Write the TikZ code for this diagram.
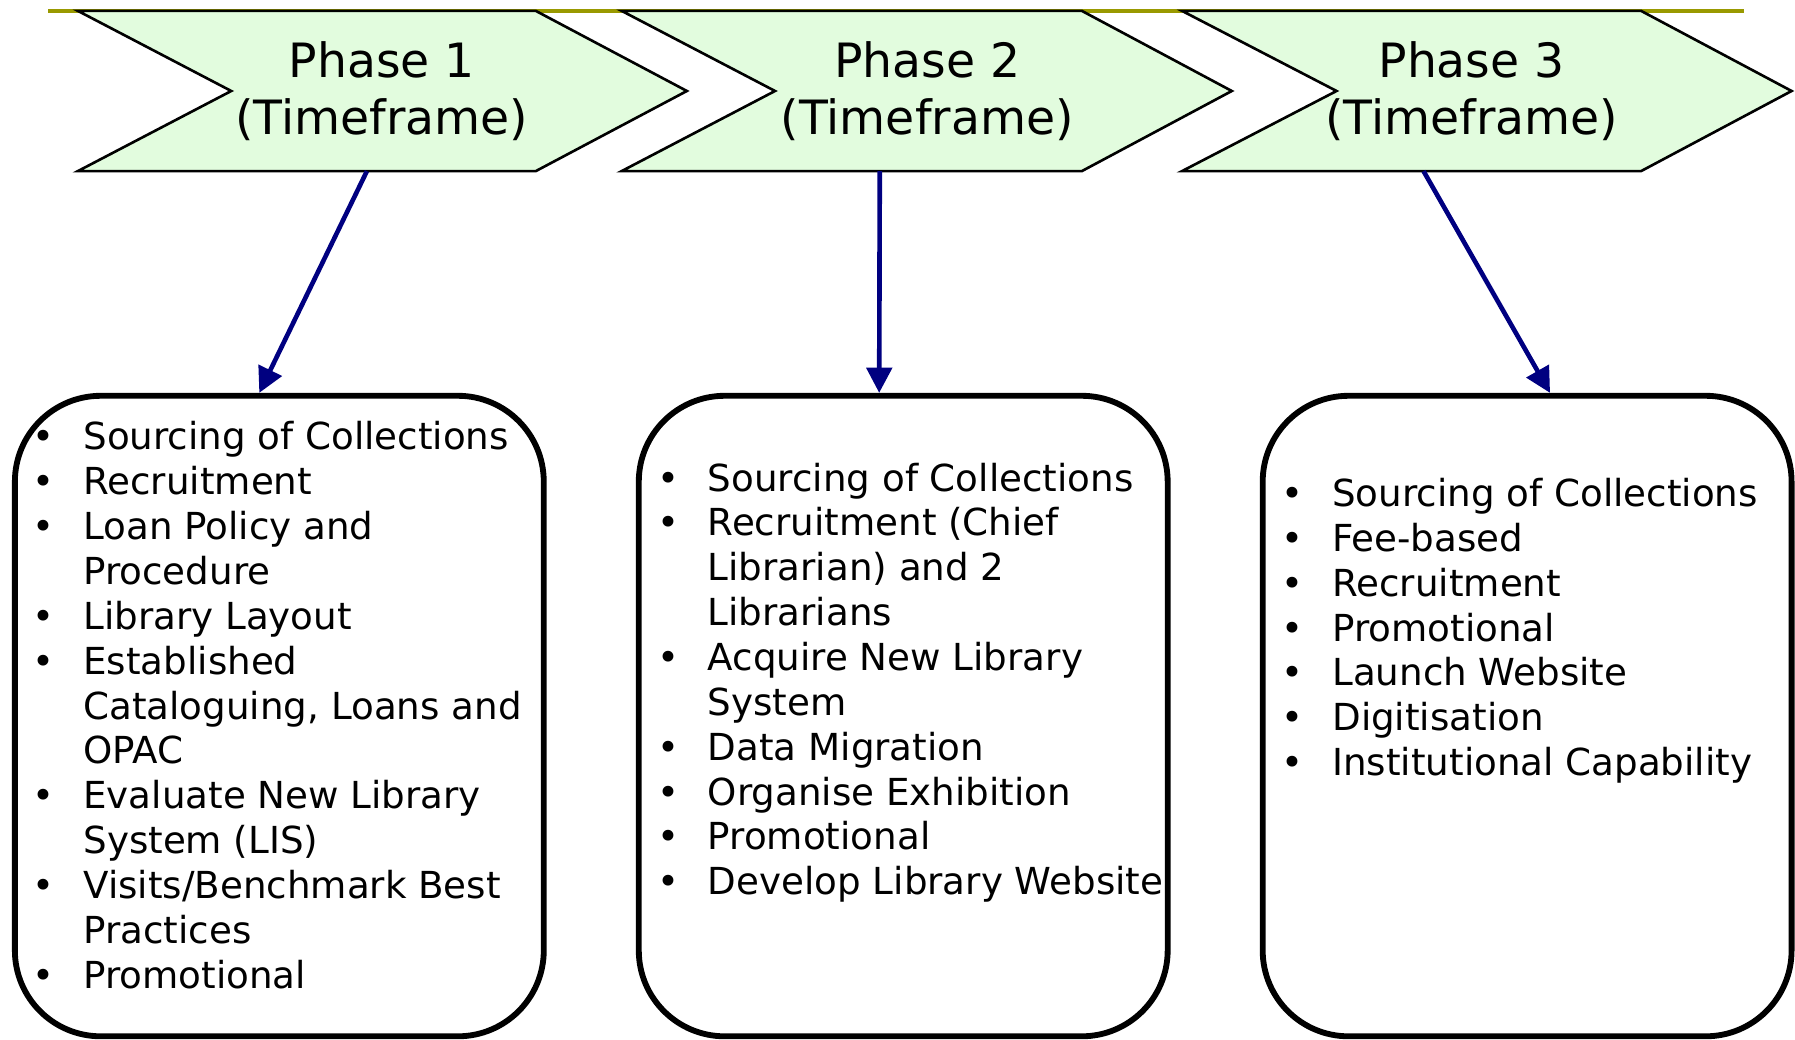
\documentclass[tikz,border=0pt]{standalone}
\usepackage{fontspec}
\setmainfont{DejaVu Sans}
\usetikzlibrary{arrows.meta}

\definecolor{phasegreen}{RGB}{226,252,222}
\definecolor{rulegold}{RGB}{153,153,0}
\definecolor{linknavy}{RGB}{0,0,128}

\newcommand{\itm}{\makebox[1.38cm]{\textbullet}}

\begin{document}
\begin{tikzpicture}[
  chevron/.style={draw, line width=1.3pt, fill=phasegreen},
  phase/.style={align=center, inner sep=0pt, font=\fontsize{23.5}{28.2}\selectfont},
  box/.style={draw, line width=2.9pt, rounded corners=1.5cm, minimum width=9.24cm, minimum height=11.19cm},
  list/.style={anchor=base west, inner sep=0pt, font=\fontsize{18.5}{22.3}\selectfont},
  link/.style={draw=linknavy, line width=2.3pt, -{Triangle[length=0.44cm, width=0.44cm]}}
]
\useasboundingbox (0,0) rectangle (31.36,18.16);

% \node at (-1, 19) {Phases};
\draw[rulegold, line width=2.2pt] (0.84,17.97) -- (30.46,17.97);

\draw[chevron] (1.36,17.97) -- (9.36,17.97) -- (12.0,16.57) -- (9.36,15.17) -- (1.36,15.17) -- (4.04,16.57) -- cycle;
\node[phase] (Phase 1) at (6.67,16.57) {Phase 1\\(Timeframe)};
\coordinate (Foot 1) at (6.41,15.17);

\draw[chevron] (10.86,17.97) -- (18.90,17.97) -- (21.52,16.57) -- (18.90,15.17) -- (10.86,15.17) -- (13.54,16.57) -- cycle;
\node[phase] (Phase 2) at (16.20,16.57) {Phase 2\\(Timeframe)};
\coordinate (Foot 2) at (15.37,15.17);

\draw[chevron] (20.65,17.97) -- (28.67,17.97) -- (31.30,16.57) -- (28.67,15.17) -- (20.65,15.17) -- (23.35,16.57) -- cycle;
\node[phase] (Phase 3) at (25.71,16.57) {Phase 3\\(Timeframe)};
\coordinate (Foot 3) at (24.87,15.17);

\node[box] (Box 1) at (4.88,5.65) {};
\node[list] (List 1) at (0.07,10.30) {\begin{tabular}[t]{@{}c@{}l@{}}
\itm & Sourcing of Collections\\
\itm & Recruitment\\
\itm & Loan Policy and\\
     & Procedure\\
\itm & Library Layout\\
\itm & Established\\
     & Cataloguing, Loans and\\
     & OPAC\\
\itm & Evaluate New Library\\
     & System (LIS)\\
\itm & Visits/Benchmark Best\\
     & Practices\\
\itm & Promotional
\end{tabular}};

\node[box] (Box 2) at (15.78,5.65) {};
\node[list] (List 2) at (10.98,9.58) {\begin{tabular}[t]{@{}c@{}l@{}}
\itm & Sourcing of Collections\\
\itm & Recruitment (Chief\\
     & Librarian) and 2\\
     & Librarians\\
\itm & Acquire New Library\\
     & System\\
\itm & Data Migration\\
\itm & Organise Exhibition\\
\itm & Promotional\\
\itm & Develop Library Website
\end{tabular}};

\node[box] (Box 3) at (26.68,5.65) {};
\node[list] (List 3) at (21.89,9.31) {\begin{tabular}[t]{@{}c@{}l@{}}
\itm & Sourcing of Collections\\
\itm & Fee-based\\
\itm & Recruitment\\
\itm & Promotional\\
\itm & Launch Website\\
\itm & Digitisation\\
\itm & Institutional Capability
\end{tabular}};

\draw[link] (Foot 1) -- ([xshift=-0.35cm]Box 1.north);
\draw[link] (Foot 2) -- ([xshift=-0.42cm]Box 2.north);
\draw[link] (Foot 3) -- ([xshift=0.40cm]Box 3.north);
\end{tikzpicture}
\end{document}
